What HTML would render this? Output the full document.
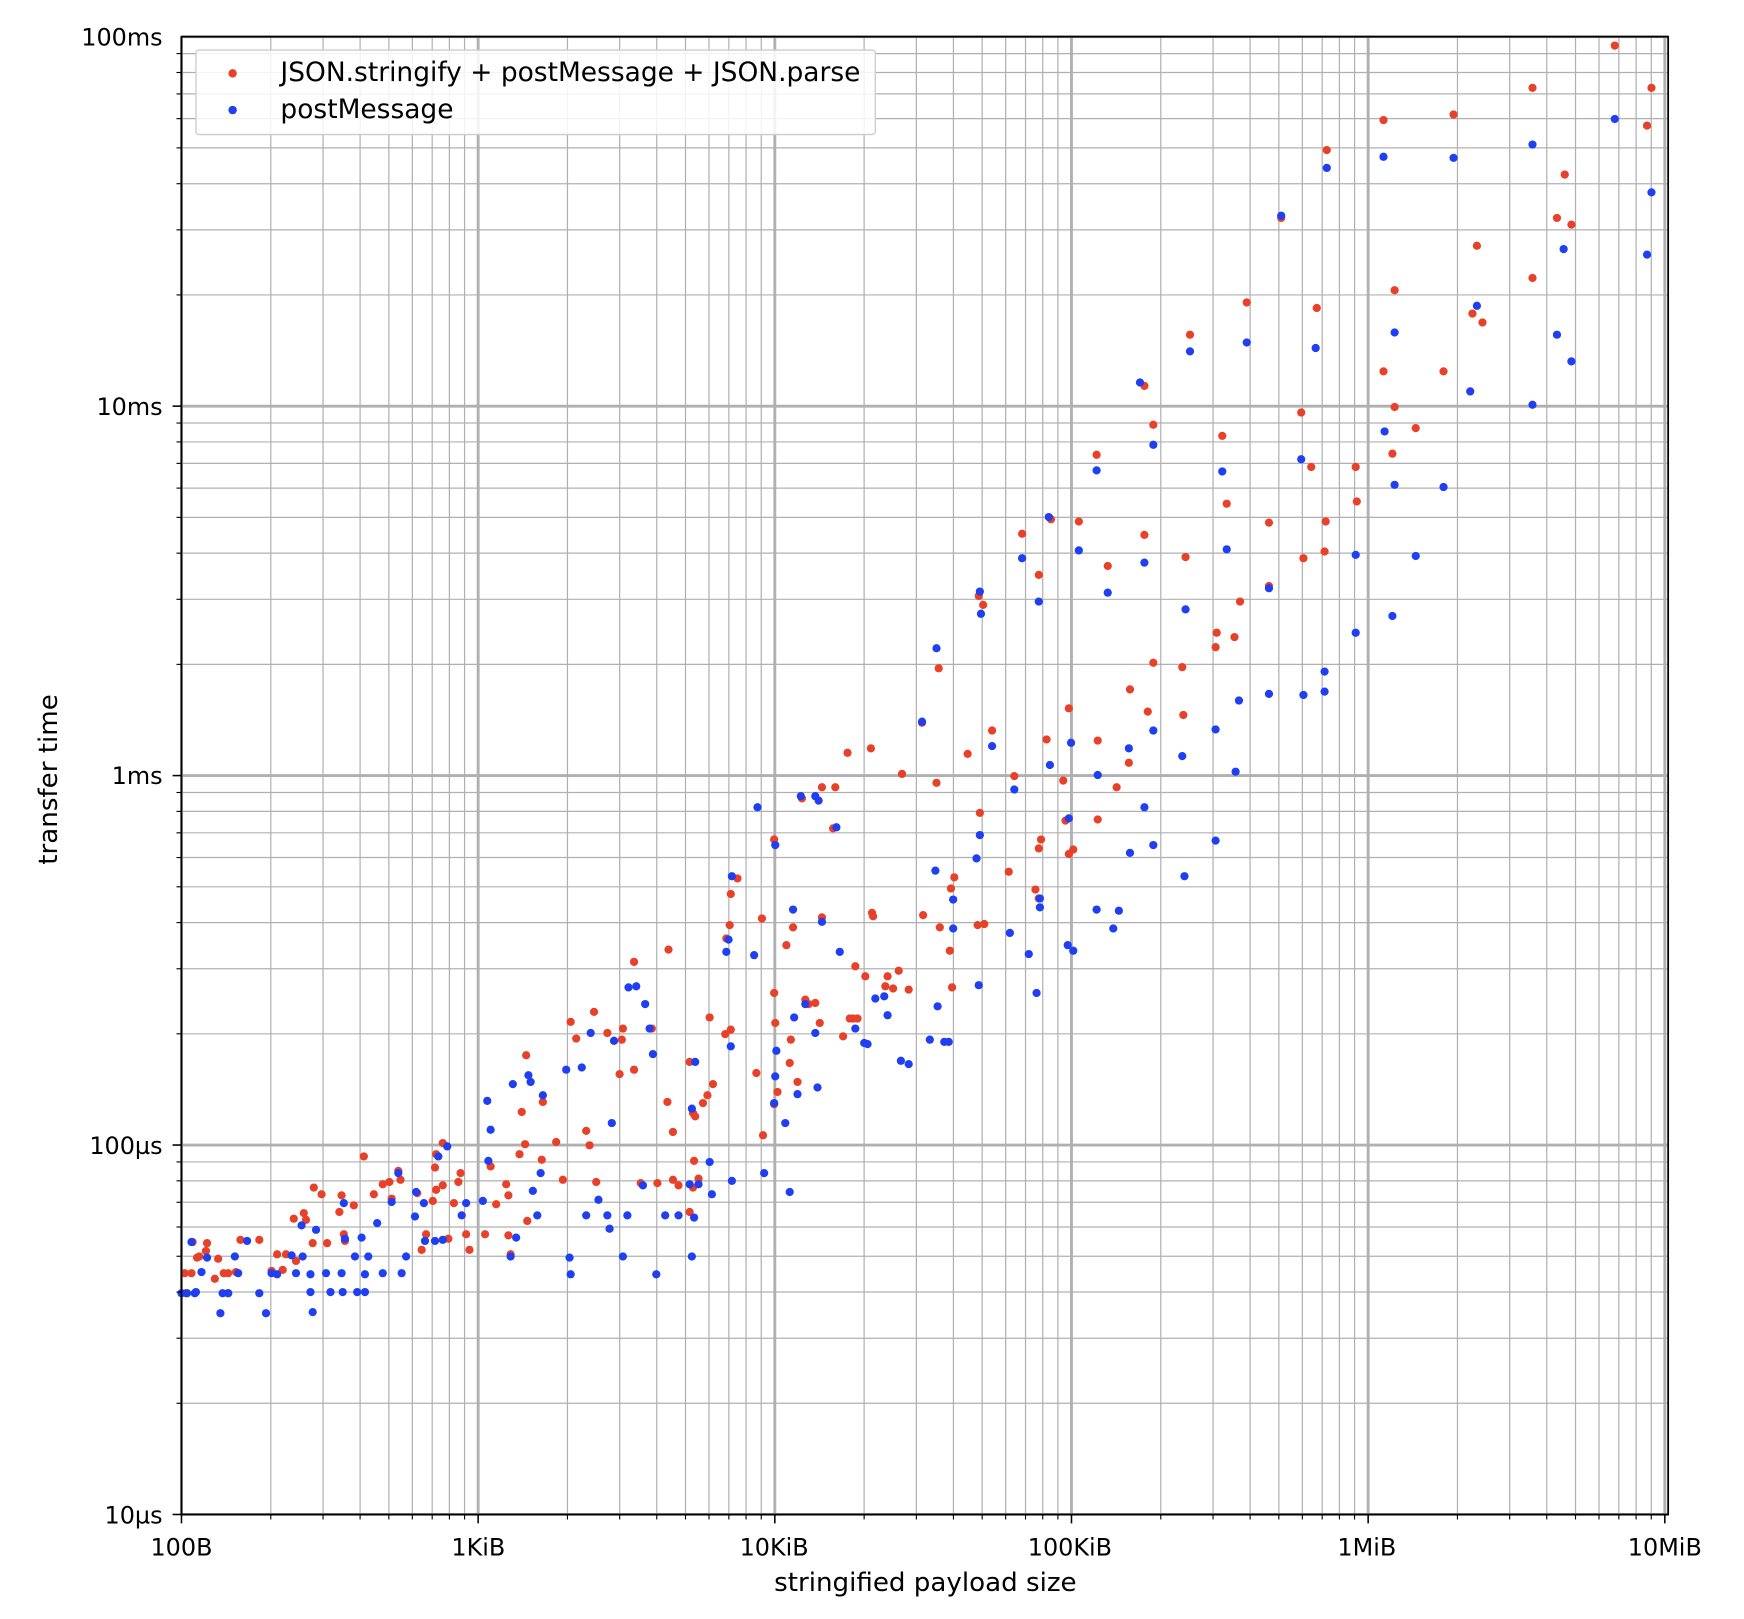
<!DOCTYPE html>
<html><head><meta charset="utf-8"><style>
html,body{margin:0;padding:0;background:#fff}
svg{display:block}
text{font-family:"DejaVu Sans","Liberation Sans",sans-serif;fill:#000}
</style></head><body>
<svg id="s" width="1744" height="1619" viewBox="0 0 1568 1456" xmlns="http://www.w3.org/2000/svg">
<g id="grid"></g>
<g id="pts"></g>
<rect x="163" y="33" width="1337" height="1329" fill="none" stroke="#000" stroke-width="1.6"/>
<g id="ticks"></g>
<g font-size="21.5">
<text x="146" y="41" text-anchor="end">100ms</text>
<text x="146" y="373" text-anchor="end">10ms</text>
<text x="146" y="705" text-anchor="end">1ms</text>
<text x="146" y="1038" text-anchor="end">100µs</text>
<text x="146" y="1370" text-anchor="end">10µs</text>
<text x="163" y="1399" text-anchor="middle">100B</text>
<text x="430" y="1399" text-anchor="middle">1KiB</text>
<text x="696" y="1399" text-anchor="middle">10KiB</text>
<text x="962" y="1399" text-anchor="middle">100KiB</text>
<text x="1229" y="1399" text-anchor="middle">1MiB</text>
<text x="1497" y="1399" text-anchor="middle">10MiB</text>
</g>
<g font-size="23.5">
<text x="832" y="1431" text-anchor="middle">stringified payload size</text>
<text transform="translate(51,701) rotate(-90)" text-anchor="middle">transfer time</text>
</g>
<g>
<rect x="176" y="45" width="611" height="76" rx="3" fill="#fff" fill-opacity="0.85" stroke="#ccc" stroke-width="1.2"/>
<circle cx="209" cy="66" r="3.8" fill="#e8412a"/>
<circle cx="209" cy="99" r="3.8" fill="#1f3ff0"/>
<text x="252" y="73" font-size="23.8">JSON.stringify + postMessage + JSON.parse</text>
<text x="252" y="106" font-size="23.8">postMessage</text>
</g>
</svg>
<script>
var NS="http://www.w3.org/2000/svg";
function el(p,n,a){var e=document.createElementNS(NS,n);for(var k in a)e.setAttribute(k,a[k]);p.appendChild(e);return e;}
var g=document.getElementById('grid'),t=document.getElementById('ticks'),P=document.getElementById('pts');
var X0=163,DX=266.8,Y0=33,DY=332.25;
for(var d=0;d<6;d++){for(var m=1;m<10;m++){var x=X0+d*DX+Math.log10(m)*DX;if(x>1500)break;
 el(g,'line',{x1:x,x2:x,y1:33,y2:1362,stroke:'#b0b0b0','stroke-width':m==1?2.6:1.1});
 el(t,'line',{x1:x,x2:x,y1:1362,y2:1362+(m==1?8:4.5),stroke:'#000','stroke-width':m==1?1.4:1});}}
for(var d=0;d<4;d++){for(var m=1;m<10;m++){var y=1362-d*DY-Math.log10(m)*DY;
 el(g,'line',{x1:163,x2:1500,y1:y,y2:y,stroke:'#b0b0b0','stroke-width':m==1?2.6:1.1});
 el(t,'line',{x1:163-(m==1?8:4.5),x2:163,y1:y,y2:y,stroke:'#000','stroke-width':m==1?1.4:1});}}
el(g,'line',{x1:163,x2:1500,y1:33,y2:33,stroke:'#b0b0b0','stroke-width':2.6});
var R=[[1452,41],[1485,79],[1378,79],[1481,113],[1244,108],[1307,103],[1193,135],[1407,157],[1400,196],[1413,202],[1328,221],[1152,196],[1378,250],[1254,261],[1184,277],[1324,282],[1333,290],[1121,272],[1070,301],[1298,334],[1244,334],[1029,347],[1273,385],[1254,366],[1170,371],[1037,382],[1099,392],[986,409],[1179,420],[1219,420],[1252,408],[1103,453],[1141,470],[945,467],[970,469],[919,480],[1192,469],[1220,451],[1029,481],[1066,501],[1191,496],[1172,502],[996,509],[934,517],[1141,527],[880,536],[884,544],[1115,541],[1110,573],[1094,569],[1093,582],[1037,596],[844,601],[1063,600],[1016,620],[961,637],[1032,640],[1064,643],[892,657],[829,650],[941,665],[987,666],[762,677],[870,678],[1015,686],[912,698],[956,702],[751,708],[783,673],[842,704],[811,696],[1004,708],[958,738],[721,718],[739,708],[987,737],[881,731],[696,755],[749,745],[936,755],[934,763],[961,768],[965,764],[907,784],[931,800],[934,808],[858,789],[855,799],[663,790],[657,804],[601,854],[739,825],[713,834],[830,823],[784,821],[785,824],[707,850],[879,832],[885,831],[845,834],[854,855],[685,826],[656,832],[570,865],[653,844],[769,869],[808,873],[796,887],[803,889],[817,890],[856,888],[778,878],[798,878],[724,899],[733,902],[727,903],[737,920],[711,935],[771,916],[767,916],[764,916],[758,932],[696,893],[697,920],[652,930],[657,926],[638,915],[710,956],[620,955],[513,919],[534,910],[473,949],[518,934],[560,925],[586,925],[570,962],[557,966],[559,935],[546,929],[641,975],[636,985],[632,992],[625,1004],[623,1001],[600,991],[605,1018],[717,973],[699,982],[696,993],[680,965],[686,1021],[624,1044],[623,1068],[628,1060],[605,1061],[610,1066],[620,1090],[591,1064],[576,1064],[536,1063],[527,1017],[530,1030],[506,1061],[487,1043],[500,1027],[472,1029],[469,1000],[488,991],[467,1038],[441,1049],[455,1065],[446,1083],[457,1075],[474,1098],[459,1128],[457,1111],[436,1110],[422,1124],[412,1063],[419,1110],[398,1028],[392,1038],[391,1050],[414,1055],[398,1066],[408,1082],[392,1070],[389,1080],[383,1110],[379,1124],[403,1114],[375,1073],[358,1053],[360,1061],[350,1063],[352,1078],[344,1065],[336,1074],[327,1040],[318,1084],[307,1075],[305,1090],[289,1074],[282,1068],[309,1110],[310,1116],[294,1118],[281,1118],[273,1091],[275,1097],[264,1096],[257,1128],[266,1134],[254,1142],[249,1128],[244,1143],[233,1115],[216,1115],[196,1132],[212,1144],[201,1145],[193,1150],[185,1125],[179,1130],[173,1117],[186,1118],[177,1131],[172,1145],[166,1145],[167,1163],[205,1163],[205,1145]];
var B=[[1452,107],[1485,173],[1481,229],[1378,130],[1244,141],[1307,142],[1193,151],[1152,194],[1406,224],[1413,325],[1400,301],[1328,275],[1254,299],[1183,313],[1121,308],[1070,316],[1025,344],[1037,400],[1378,364],[1322,352],[1245,388],[1254,436],[1298,438],[1219,499],[1170,413],[1099,424],[986,423],[1103,494],[1141,529],[1219,569],[1273,500],[1252,554],[1191,604],[1191,622],[1172,625],[1141,624],[1114,630],[1111,694],[1063,680],[1093,656],[1066,548],[1029,506],[1037,657],[1029,726],[996,533],[943,465],[919,502],[934,541],[970,495],[881,532],[882,552],[842,583],[829,649],[892,671],[944,688],[963,668],[987,697],[1015,673],[1037,760],[1016,767],[1093,756],[1065,788],[1001,835],[1006,819],[986,818],[961,736],[960,850],[965,855],[935,808],[935,816],[912,710],[925,858],[932,893],[881,751],[878,772],[880,886],[908,839],[857,809],[857,835],[841,783],[843,905],[853,937],[849,937],[836,935],[810,954],[817,957],[795,896],[798,913],[787,898],[780,939],[769,925],[777,938],[752,744],[755,856],[739,829],[733,929],[735,978],[714,915],[713,818],[717,984],[724,903],[720,716],[733,716],[736,720],[697,760],[697,968],[681,726],[678,859],[698,945],[696,992],[706,1010],[687,1055],[710,1072],[658,788],[655,845],[653,856],[657,941],[658,1062],[640,1074],[638,1045],[628,1065],[624,1095],[622,1130],[625,955],[622,997],[620,1065],[598,1093],[590,1146],[610,1093],[587,948],[584,925],[572,887],[565,888],[580,903],[552,936],[550,1010],[564,1093],[578,1066],[560,1130],[548,1105],[546,1093],[531,929],[523,960],[509,962],[538,1079],[527,1093],[512,1131],[513,1146],[488,985],[475,967],[477,973],[461,975],[486,1055],[479,1071],[483,1093],[464,1113],[459,1130],[438,990],[441,1016],[439,1044],[434,1080],[419,1082],[415,1093],[402,1031],[394,1040],[398,1115],[391,1116],[382,1116],[381,1082],[374,1072],[373,1094],[365,1130],[361,1145],[358,1055],[352,1081],[344,1145],[339,1100],[331,1130],[328,1146],[325,1113],[321,1162],[328,1162],[319,1130],[310,1114],[309,1082],[308,1162],[297,1162],[279,1162],[307,1145],[293,1145],[284,1106],[271,1102],[272,1130],[279,1146],[281,1180],[266,1145],[262,1129],[249,1146],[233,1163],[239,1181],[244,1145],[222,1116],[211,1130],[205,1163],[200,1163],[198,1181],[186,1131],[181,1144],[175,1163],[172,1117],[176,1162],[168,1163],[163,1163],[214,1145]];
R.forEach(function(p){el(P,'circle',{cx:p[0],cy:p[1],r:3.7,fill:'#e8412a'});});
B.forEach(function(p){el(P,'circle',{cx:p[0],cy:p[1],r:3.7,fill:'#1f3ff0'});});
</script>
</body></html>
